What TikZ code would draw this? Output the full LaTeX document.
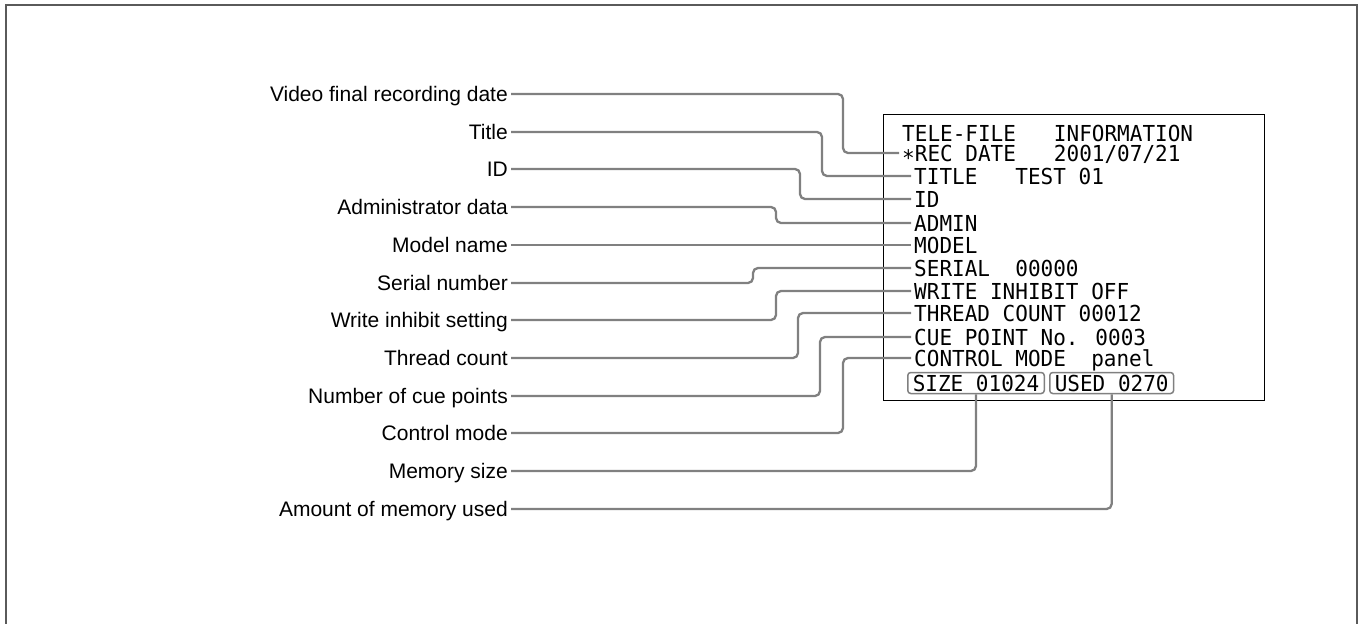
\documentclass[tikz,border=0pt]{standalone}
\usepackage{fontspec}
\setmainfont{Liberation Sans}
\newfontfamily\lcdfont[FakeStretch=0.955]{DejaVu Sans Mono}
\definecolor{leadergray}{RGB}{128,128,128}
\definecolor{framegray}{RGB}{90,90,90}

\begin{document}
\begin{tikzpicture}[x=1pt, y=-1pt,
    info/.style={anchor=east, inner xsep=3pt, inner ysep=0pt, text height=15pt, text depth=0pt, font=\fontsize{21}{25}\selectfont},
    lcd/.style={anchor=west, inner sep=0pt, text height=16pt, text depth=0pt, font=\lcdfont\fontsize{22}{26}\selectfont},
    lcdbox/.style={draw=leadergray, line width=1.5pt, rounded corners=3pt, anchor=west, inner xsep=5pt, inner ysep=2.5pt, text height=16pt, text depth=0pt, font=\lcdfont\fontsize{22}{26}\selectfont},
    leader/.style={draw=leadergray, line width=2.3pt, rounded corners=5pt, shorten >=3pt}
  ]
    \useasboundingbox (0,0) rectangle (1358,624);
    \draw[framegray, line width=1.5pt] (6,624) -- (6,5) -- (1357,5) -- (1357,624);

    \node[draw, line width=1.2pt, minimum width=381pt, minimum height=286pt, anchor=north west, inner sep=0pt] (screen) at (883,114) {};

    \node[lcd] (rhead) at (902,133) {TELE-FILE~~~INFORMATION};
    \node[lcd] (rrec) at (902,153) {∗REC DATE~~~2001/07/21};
    \node[lcd] (rtitle) at (914,176) {TITLE~~~TEST 01};
    \node[lcd] (rid) at (914,199) {ID};
    \node[lcd] (radmin) at (914,223) {ADMIN};
    \node[lcd] (rmodel) at (914,245) {MODEL};
    \node[lcd] (rserial) at (914,268) {SERIAL~~00000};
    \node[lcd] (rwrite) at (914,291) {WRITE INHIBIT OFF};
    \node[lcd] (rthread) at (914,313) {THREAD COUNT 00012};
    \node[lcd] (rcue) at (914,337) {CUE POINT No. 0003};
    \node[lcd] (rcontrol) at (914,358) {CONTROL MODE~~panel};
    \node[lcdbox] (bsize) at (907,383) {SIZE 01024};
    \node[lcdbox] (bused) at (1049,383) {USED 0270};

    \node[info] (lvideo) at (511,94) {Video final recording date};
    \node[info] (ltitle) at (511,132) {Title};
    \node[info] (lid) at (511,169) {ID};
    \node[info] (ladmin) at (511,207) {Administrator data};
    \node[info] (lmodel) at (511,245) {Model name};
    \node[info] (lserial) at (511,283) {Serial number};
    \node[info] (lwrite) at (511,320) {Write inhibit setting};
    \node[info] (lthread) at (511,358) {Thread count};
    \node[info] (lcue) at (511,396) {Number of cue points};
    \node[info] (lcontrol) at (511,433) {Control mode};
    \node[info] (lmem) at (511,471) {Memory size};
    \node[info] (lused) at (511,509) {Amount of memory used};

    \draw[leader] (lvideo.east) -- ++(332,0) |- (rrec.west);
    \draw[leader] (ltitle.east) -- ++(311,0) |- (rtitle.west);
    \draw[leader] (lid.east) -- ++(289,0) |- (rid.west);
    \draw[leader] (ladmin.east) -- ++(265,0) |- (radmin.west);
    \draw[leader] (lmodel.east) -- (rmodel.west);
    \draw[leader] (lserial.east) -- ++(242,0) |- (rserial.west);
    \draw[leader] (lwrite.east) -- ++(265,0) |- (rwrite.west);
    \draw[leader] (lthread.east) -- ++(287,0) |- (rthread.west);
    \draw[leader] (lcue.east) -- ++(309,0) |- (rcue.west);
    \draw[leader] (lcontrol.east) -- ++(332,0) |- (rcontrol.west);
    \draw[leader, shorten >=0pt] (lmem.east) -| (bsize.south);
    \draw[leader, shorten >=0pt] (lused.east) -| (bused.south);
  \end{tikzpicture}
\end{document}
